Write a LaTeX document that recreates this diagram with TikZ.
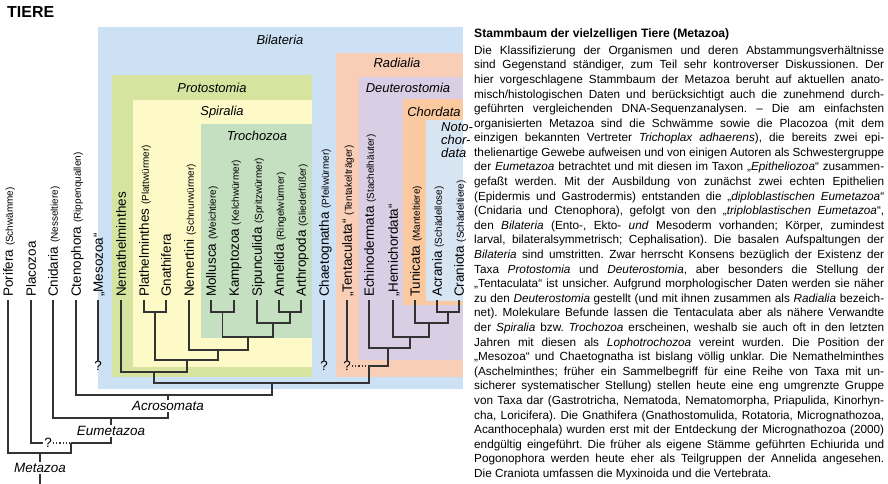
\documentclass[tikz,border=0pt]{standalone}
\usepackage{fontspec}
\setmainfont{Liberation Sans}
\usetikzlibrary{positioning}
\frenchspacing

\definecolor{bilat}{HTML}{CDE1F5}
\definecolor{proto}{HTML}{D6E4A0}
\definecolor{spiral}{HTML}{FDFAC8}
\definecolor{trocho}{HTML}{C4E0C0}
\definecolor{radial}{HTML}{F9CEB7}
\definecolor{deutero}{HTML}{DACEE4}
\definecolor{chord}{HTML}{FBC9A0}
\definecolor{noto}{HTML}{D7E5F3}

\newcommand\vulgo[1]{\fontsize{10}{12}\selectfont(#1)}
\newcommand\jl[1]{\makebox[410bp][s]{#1}}

\tikzset{
  taxon/.style={rotate=90, anchor=west, inner xsep=3bp, inner ysep=0pt,
    text height=9.7bp, text depth=0pt, font=\fontsize{13.5}{16}\selectfont},
  grp/.style={inner sep=0pt, font=\fontsize{13}{15}\selectfont\itshape},
  clade/.style={fill=white, inner sep=1bp, font=\fontsize{13.5}{16}\selectfont\itshape},
  qmark/.style={inner sep=1bp, font=\fontsize{13.5}{16}\selectfont},
  branch/.style={line width=1.1bp, draw=black!80},
  unsure/.style={branch, dash pattern=on 1.2bp off 2bp},
}

\begin{document}
\begin{tikzpicture}[x=1bp, y=-1bp]
    \useasboundingbox (0,0) rectangle (888,484);

    \node[anchor=base west, inner sep=0pt, font=\bfseries\fontsize{16}{18}\selectfont] (tiere) at (7,18) {TIERE};

    % nested groups
    \fill[bilat] (98,27) rectangle (463,389);
    \fill[proto] (112,75) rectangle (312,377);
    \fill[spiral] (133,100) rectangle (312,367);
    \fill[trocho] (201,124) rectangle (312,338);
    \fill[radial] (336,53) rectangle (463,377);
    \fill[deutero] (359,77) rectangle (463,360);
    \fill[chord] (403,99) rectangle (463,305);
    \fill[noto] (426,120) rectangle (463,301);

    \node[grp] (bilat) at (280,40) {Bilateria};
    \node[grp] (protos) at (212,88) {Protostomia};
    \node[grp] (spiral) at (222,112) {Spiralia};
    \node[grp] (trochoz) at (257,136) {Trochozoa};
    \node[grp] (radial) at (397,63) {Radialia};
    \node[grp] (deuteros) at (408,88) {Deuterostomia};
    \node[grp] (chordat) at (434,112) {Chordata};
    \node[grp, anchor=north west, align=left, font=\fontsize{13}{13}\selectfont\itshape] (notoch) at (441,122) {Noto-\\chor-\\data};

    % taxa
    \node[taxon] (por) at (8,300) {Porifera {\vulgo{Schwämme}}};
    \node[taxon] (plac) at (31,300) {Placozoa};
    \node[taxon] (cni) at (53,300) {Cnidaria {\vulgo{Nesseltiere}}};
    \node[taxon] (cte) at (76,300) {Ctenophora {\vulgo{Rippenquallen}}};
    \node[taxon] (meso) at (98,300) {„Mesozoa“};
    \node[taxon] (nema) at (121,300) {Nemathelminthes};
    \node[taxon] (plat) at (144,300) {Plathelminthes {\vulgo{Plattwürmer}}};
    \node[taxon] (gnat) at (166,300) {Gnathifera};
    \node[taxon] (nemer) at (189,300) {Nemertini {\vulgo{Schnurwürmer}}};
    \node[taxon] (moll) at (211,300) {Mollusca {\vulgo{Weichtiere}}};
    \node[taxon] (kamp) at (234,300) {Kamptozoa {\vulgo{Kelchwürmer}}};
    \node[taxon] (sipu) at (257,300) {Sipunculida {\vulgo{Spritzwürmer}}};
    \node[taxon] (anne) at (279,300) {Annelida {\vulgo{Ringelwürmer}}};
    \node[taxon] (arth) at (301,300) {Arthropoda {\vulgo{Gliederfüßer}}};
    \node[taxon] (chae) at (324,300) {Chaetognatha {\vulgo{Pfeilwürmer}}};
    \node[taxon] (tent) at (347,300) {„Tentaculata“ {\vulgo{Tentakelträger}}};
    \node[taxon] (echi) at (369,300) {Echinodermata {\vulgo{Stachelhäuter}}};
    \node[taxon] (hemi) at (393,300) {„Hemichordata“};
    \node[taxon] (tuni) at (415,300) {Tunicata {\vulgo{Manteltiere}}};
    \node[taxon] (acra) at (437,300) {Acrania {\vulgo{Schädellose}}};
    \node[taxon] (cran) at (459,300) {Craniota {\vulgo{Schädeltiere}}};

    % branching points
    \coordinate (jplat) at (155,312);
    \coordinate (jmoll) at (222.5,312);
    \coordinate (janne) at (290,312);
    \coordinate (jcran) at (448,312);
    \coordinate (jsipu) at (273,323);
    \coordinate (jchord) at (429,323);
    \coordinate (jtroch) at (248,337);
    \coordinate (jhemi) at (410,337);
    \coordinate (jnemer) at (218,350);
    \coordinate (jdeut) at (388,348);
    \coordinate (jspir) at (187,360);
    \coordinate (jrad) at (369,366);
    \coordinate (jprot) at (154,372);
    \coordinate (jbil) at (272,383);
    \coordinate (jacro) at (168,395);
    \coordinate (jeum) at (111,418);
    \coordinate (jepi) at (71,443);
    \coordinate (jmeta) at (40,453);
    \coordinate (root) at (40,484);

    \node[qmark] (qmeso) at (98,366) {?};
    \node[qmark] (qchae) at (324,366) {?};
    \node[qmark] (qtent) at (347,366) {?};
    \node[qmark] (qplac) at (48,443) {?};

    \draw[branch] (plat.west) |- (jplat) -| (gnat.west);
    \draw[branch] (moll.west) |- (jmoll) -| (kamp.west);
    \draw[branch] (anne.west) |- (janne) -| (arth.west);
    \draw[branch] (sipu.west) |- (jsipu) -| (janne);
    \draw[branch] (jmoll) |- (jtroch) -| (jsipu);
    \draw[branch] (nemer.west) |- (jnemer) -| (jtroch);
    \draw[branch] (jplat) |- (jspir) -| (jnemer);
    \draw[branch] (nema.west) |- (jprot) -| (jspir);
    \draw[branch] (acra.west) |- (jcran) -| (cran.west);
    \draw[branch] (tuni.west) |- (jchord) -| (jcran);
    \draw[branch] (hemi.west) |- (jhemi) -| (jchord);
    \draw[branch] (echi.west) |- (jdeut) -| (jhemi);
    \draw[branch] (jrad) -| (jdeut);
    \draw[branch] (tent.west) -- ([yshift=-1bp]qtent.north);
    \draw[unsure] (qtent.east) -- (jrad);
    \draw[branch] (jprot) |- (jbil) -| (jrad);
    \draw[branch] (cte.west) |- (jacro) -| (jbil);
    \draw[branch] (cni.west) |- (jeum) -| (jacro);
    \draw[branch] (plac.west) |- (qplac.west);
    \draw[unsure] (qplac.east) -- (jepi);
    \draw[branch] (jepi) -| (jeum);
    \draw[branch] (por.west) |- (jmeta) -| (jepi);
    \draw[branch] (jmeta) -- (root);
    \draw[branch] (meso.west) -- ([yshift=-2bp]qmeso.north);
    \draw[branch] (chae.west) -- ([yshift=-2bp]qchae.north);

    \node[clade] (acro) at (168,406) {Acrosomata};
    \node[clade] (eumet) at (111,431) {Eumetazoa};
    \node[clade] (meta) at (40,468) {Metazoa};

    % text column
    \node[anchor=base west, inner sep=0pt, font=\bfseries\fontsize{12.2}{14}\selectfont] (head) at (474,37.5) {Stammbaum der vielzelligen Tiere (Metazoa)};
    \node[anchor=north west, inner sep=0pt, align=left, font=\fontsize{11.8}{14.65}\selectfont] (txt) at (474,45.5) {%
\jl{Die Klassifizierung der Organismen und deren Abstammungsverhältnisse}\\
\jl{sind Gegenstand ständiger, zum Teil sehr kontroverser Diskussionen. Der}\\
\jl{hier vorgeschlagene Stammbaum der Metazoa beruht auf aktuellen anato-}\\
\jl{misch/histologischen Daten und berücksichtigt auch die zunehmend durch-}\\
\jl{geführten vergleichenden DNA-Sequenzanalysen. – Die am einfachsten}\\
\jl{organisierten Metazoa sind die Schwämme sowie die Placozoa (mit dem}\\
\jl{einzigen bekannten Vertreter \textit{Trichoplax adhaerens}), die bereits zwei epi-}\\
\jl{thelienartige Gewebe aufweisen und von einigen Autoren als Schwestergruppe}\\
\jl{der \textit{Eumetazoa} betrachtet und mit diesen im Taxon „\textit{Epitheliozoa}“ zusammen-}\\
\jl{gefaßt werden. Mit der Ausbildung von zunächst zwei echten Epithelien}\\
\jl{(Epidermis und Gastrodermis) entstanden die „\textit{diploblastischen Eumetazoa}“}\\
\jl{(Cnidaria und Ctenophora), gefolgt von den „\textit{triploblastischen Eumetazoa}“,}\\
\jl{den \textit{Bilateria} (Ento-, Ekto- \textit{und} Mesoderm vorhanden; Körper, zumindest}\\
\jl{larval, bilateralsymmetrisch; Cephalisation). Die basalen Aufspaltungen der}\\
\jl{\textit{Bilateria} sind umstritten. Zwar herrscht Konsens bezüglich der Existenz der}\\
\jl{Taxa \textit{Protostomia} und \textit{Deuterostomia}, aber besonders die Stellung der}\\
\jl{„Tentaculata“ ist unsicher. Aufgrund morphologischer Daten werden sie näher}\\
\jl{zu den \textit{Deuterostomia} gestellt (und mit ihnen zusammen als \textit{Radialia} bezeich-}\\
\jl{net). Molekulare Befunde lassen die Tentaculata aber als nähere Verwandte}\\
\jl{der \textit{Spiralia} bzw. \textit{Trochozoa} erscheinen, weshalb sie auch oft in den letzten}\\
\jl{Jahren mit diesen als \textit{Lophotrochozoa} vereint wurden. Die Position der}\\
\jl{„Mesozoa“ und Chaetognatha ist bislang völlig unklar. Die Nemathelminthes}\\
\jl{(Aschelminthes; früher ein Sammelbegriff für eine Reihe von Taxa mit un-}\\
\jl{sicherer systematischer Stellung) stellen heute eine eng umgrenzte Gruppe}\\
\jl{von Taxa dar (Gastrotricha, Nematoda, Nematomorpha, Priapulida, Kinorhyn-}\\
\jl{cha, Loricifera). Die Gnathifera (Gnathostomulida, Rotatoria, Micrognathozoa,}\\
\jl{Acanthocephala) wurden erst mit der Entdeckung der Micrognathozoa (2000)}\\
\jl{endgültig eingeführt. Die früher als eigene Stämme geführten Echiurida und}\\
\jl{Pogonophora werden heute eher als Teilgruppen der Annelida angesehen.}\\
Die Craniota umfassen die Myxinoida und die Vertebrata.};
\end{tikzpicture}
\end{document}
